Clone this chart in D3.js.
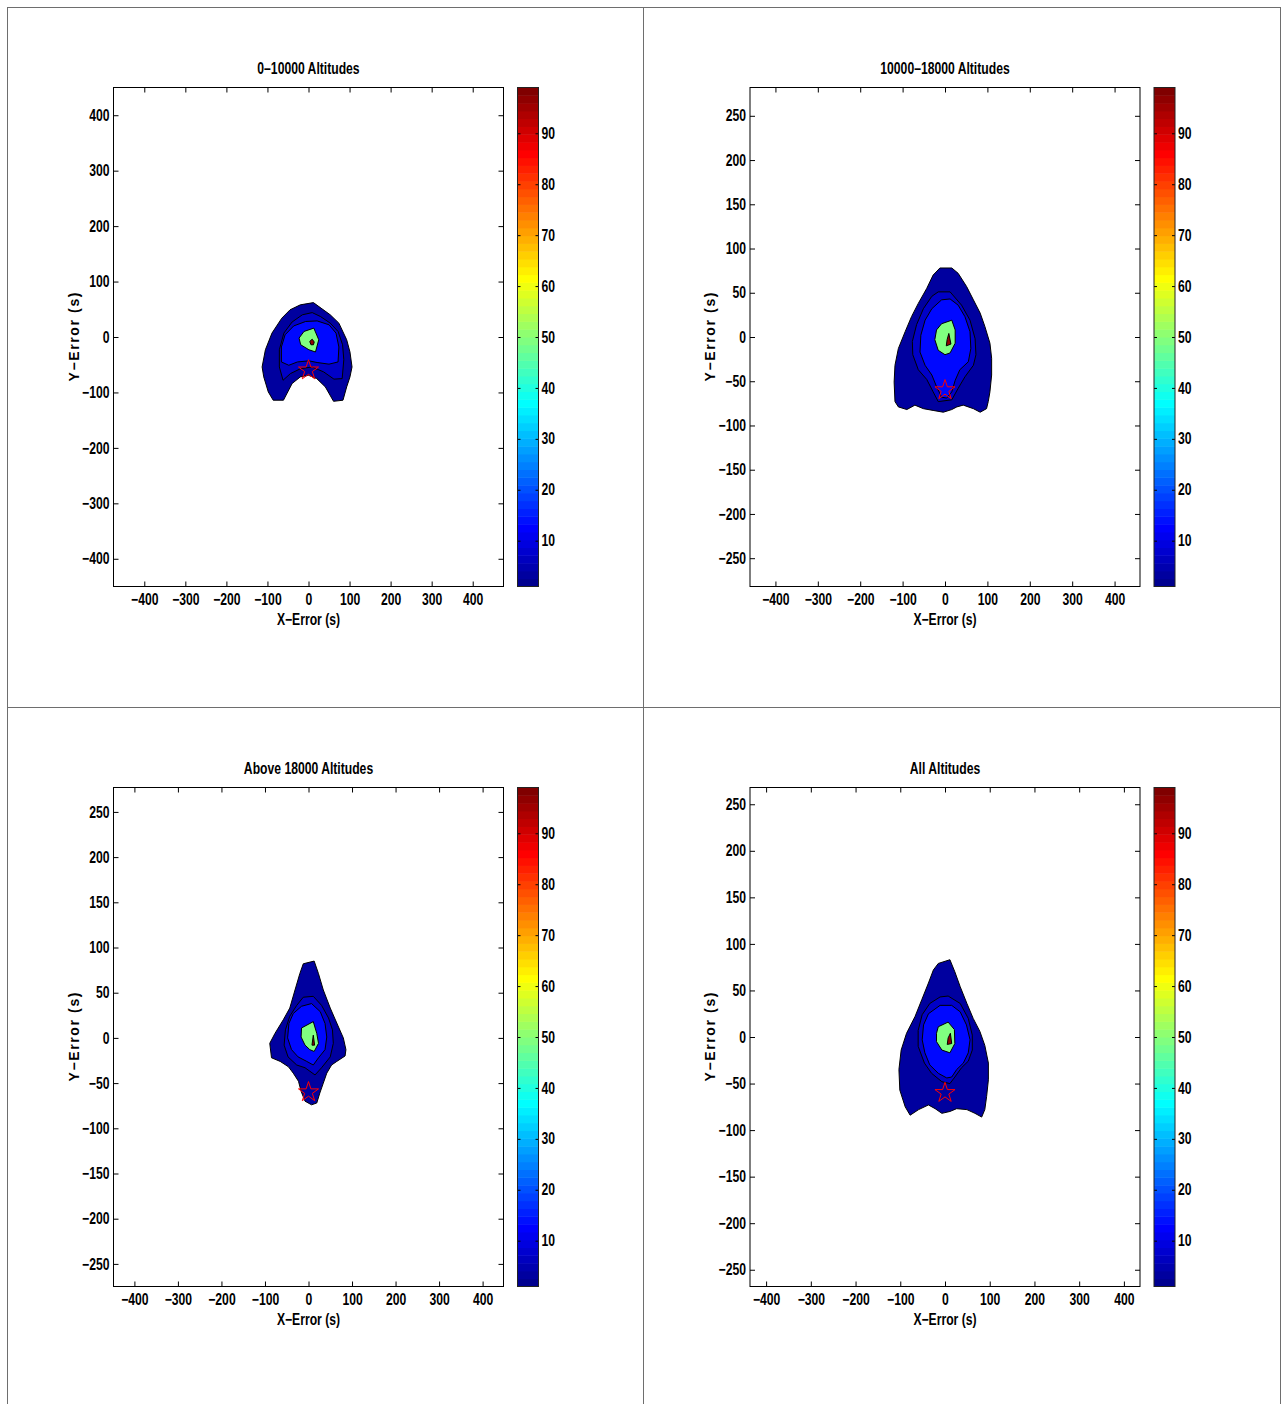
<!DOCTYPE html>
<html>
<head>
<meta charset="utf-8">
<script src="https://cdn.jsdelivr.net/npm/d3@7"></script>
<style>
  body { margin: 0; background: #fff; }
  text { font-family: "Liberation Sans", Arial, sans-serif; font-weight: bold; fill: #000; }
</style>
</head>
<body>
<script>
// Error distribution contours, four altitude bands

const panelTitles = ['0\u201310000 Altitudes', '10000\u201318000 Altitudes', 'Above 18000 Altitudes', 'All Altitudes'];
const xDomains = [[-475, 475], [-460, 460], [-448, 448], [-436, 436]];
const yDomains = [[-450, 450], [-282, 282], [-275, 277], [-268, 268]];
const xTicks = [-400, -300, -200, -100, 0, 100, 200, 300, 400];
const yTicksWide = [-400, -300, -200, -100, 0, 100, 200, 300, 400];
const yTicksNarrow = [-250, -200, -150, -100, -50, 0, 50, 100, 150, 200, 250];
const colorTicks = [10, 20, 30, 40, 50, 60, 70, 80, 90];
const colorRange = [1, 99];
const contourLevels = [4, 8, 14, 50, 97];
const target = [0, -60];

// contour outlines, one list per level
const p1Outer = [[-20,58],[12,62],[53,40],[74,25],[93,-5],[101,-27],[106,-54],[101,-72],[93,-90],[84,-114],[61,-116],[41,-90],[20,-75],[0,-69],[-20,-72],[-40,-84],[-61,-114],[-86,-114],[-98,-99],[-109,-72],[-113,-54],[-105,-23],[-89,7],[-65,34],[-45,49]];
const p1Mid = [[9,44],[29,37],[53,25],[72,10],[83,-14],[86,-41],[82,-75],[62,-76],[37,-63],[9,-54],[-19,-57],[-44,-66],[-62,-78],[-71,-54],[-71,-23],[-60,7],[-40,27],[-15,40]];
const p1Inner = [[-66,-45],[-66,-18],[-57,4],[-36,20],[-7,28],[21,29],[50,22],[67,7],[74,-18],[72,-45],[50,-49],[21,-46],[1,-43],[-27,-45],[-48,-51]];
const p1Green = [[-23,-2],[-11,10],[13,16],[25,-5],[17,-27],[1,-23],[-19,-14]];
const p1Peak = [[3,-8],[9,-4],[14,-9],[12,-14],[6,-14]];

const p2Outer = [[-12,78],[16,78],[31,72],[51,57],[67,42],[83,27],[94,12],[106,-7],[110,-24],[110,-43],[106,-62],[102,-73],[98,-81],[83,-85],[67,-81],[43,-77],[28,-79],[16,-82],[-4,-85],[-28,-83],[-51,-81],[-71,-77],[-90,-82],[-110,-79],[-118,-73],[-120,-51],[-118,-32],[-110,-13],[-94,6],[-79,23],[-63,38],[-43,55],[-28,70]];
const p2Mid = [[-16,51],[12,51],[39,36],[59,19],[71,-2],[73,-20],[67,-32],[47,-45],[31,-58],[16,-71],[-16,-73],[-28,-62],[-43,-48],[-63,-37],[-76,-20],[-77,-5],[-67,14],[-51,32],[-31,46]];
const p2Inner = [[-8,42],[12,43],[31,36],[47,23],[59,6],[61,-13],[55,-28],[35,-37],[24,-49],[16,-62],[4,-69],[-8,-68],[-20,-56],[-31,-43],[-47,-32],[-59,-17],[-57,2],[-47,19],[-31,32]];
const p2Green = [[-8,15],[16,19],[24,8],[24,-7],[12,-18],[0,-20],[-16,-15],[-24,-3],[-20,8]];
const p2Peak = [[9,4],[14,-8],[3,-10],[5,-3]];

const p3Outer = [[-12,82],[13,85],[23,71],[34,53],[50,33],[69,12],[80,0],[86,-13],[84,-20],[65,-26],[53,-30],[42,-39],[34,-50],[26,-61],[19,-72],[7,-74],[-8,-70],[-17,-59],[-23,-48],[-35,-39],[-46,-32],[-65,-26],[-85,-22],[-89,-6],[-77,5],[-58,20],[-43,33],[-31,53],[-20,71]];
const p3Mid = [[-12,45],[11,46],[30,36],[46,22],[55,9],[57,-6],[50,-21],[30,-33],[15,-41],[-8,-33],[-27,-30],[-47,-21],[-56,-8],[-53,9],[-43,24],[-27,36]];
const p3Inner = [[-16,35],[7,38],[27,29],[38,16],[42,1],[38,-13],[23,-22],[11,-30],[-4,-26],[-24,-21],[-39,-13],[-48,0],[-45,16],[-35,27]];
const p3Green = [[-16,11],[11,18],[19,5],[23,-6],[13,-15],[3,-13],[-8,-8],[-17,1]];
const p3Peak = [[11,3],[14,-8],[8,-8]];

const p4Outer = [[-15,79],[11,83],[22,70],[34,54],[49,36],[63,20],[78,6],[89,-9],[97,-28],[97,-46],[93,-64],[89,-78],[82,-86],[67,-82],[49,-78],[26,-77],[11,-80],[-7,-82],[-22,-77],[-37,-73],[-59,-78],[-78,-84],[-89,-75],[-101,-57],[-103,-35],[-98,-14],[-86,4],[-67,22],[-52,40],[-37,58],[-26,72]];
const p4Mid = [[-11,43],[7,44],[34,36],[52,20],[61,2],[61,-14],[52,-26],[37,-33],[22,-43],[11,-50],[-7,-48],[-30,-39],[-46,-28],[-60,-10],[-60,7],[-51,24],[-34,36]];
const p4Inner = [[-11,34],[15,34],[34,27],[48,13],[56,-3],[52,-17],[41,-28],[26,-35],[15,-43],[4,-44],[-15,-39],[-34,-30],[-45,-17],[-51,-3],[-48,13],[-37,25]];
const p4Green = [[-15,11],[7,16],[21,8],[22,-7],[11,-17],[-7,-14],[-19,-5],[-19,4]];
const p4Peak = [[12,4],[15,-7],[5,-8],[7,-1]];

const panelContours = [
    [p1Outer, p1Mid, p1Inner, p1Green, p1Peak],
    [p2Outer, p2Mid, p2Inner, p2Green, p2Peak],
    [p3Outer, p3Mid, p3Inner, p3Green, p3Peak],
    [p4Outer, p4Mid, p4Inner, p4Green, p4Peak]
];

// MATLAB-like jet colormap
function jet(t) {
    const c = v => Math.max(0, Math.min(1, v));
    const r = c(1.5 - Math.abs(4 * t - 3));
    const g = c(1.5 - Math.abs(4 * t - 2));
    const b = c(1.5 - Math.abs(4 * t - 1));
    return d3.rgb(r * 255, g * 255, b * 255).formatHex();
}
const levelColor = v => jet((v - colorRange[0]) / (colorRange[1] - colorRange[0]));
const fmt = d => d < 0 ? '\u2212' + Math.abs(d) : String(d);

// the original uses a narrow bold face; squeeze the installed one horizontally
const NARROW = 0.76;
function squeeze(sel) {
    sel.each(function () {
        const len = this.getComputedTextLength();
        if (len > 0) d3.select(this).attr('textLength', len * NARROW).attr('lengthAdjust', 'spacingAndGlyphs');
    });
}

const W = 1282, H = 1404;
const svg = d3.select('body').append('svg').attr('width', W).attr('height', H);

// outer frame of the figure grid
const frame = svg.append('g').attr('stroke', '#6e6e6e').attr('stroke-width', 1);
[7.5, 643.5, 1280.5].forEach(x => frame.append('line').attr('x1', x).attr('x2', x).attr('y1', 7).attr('y2', H));
[7.5, 707.5].forEach(y => frame.append('line').attr('x1', 7).attr('x2', 1281).attr('y1', y).attr('y2', y));

function drawPanel(i) {
    const ox = (i % 2) * 636.5;
    const oy = Math.floor(i / 2) * 700;
    const left = 113.5 + ox, top = 87.5 + oy, w = 390, h = 499;
    const yTicks = i === 0 ? yTicksWide : yTicksNarrow;

    const x = d3.scaleLinear().domain(xDomains[i]).range([left, left + w]);
    const y = d3.scaleLinear().domain(yDomains[i]).range([top + h, top]);

    const g = svg.append('g');

    svg.append('clipPath').attr('id', 'clip' + i)
        .append('rect').attr('x', left).attr('y', top).attr('width', w).attr('height', h);

    const plot = g.append('g').attr('clip-path', `url(#clip${i})`);
    const line = d3.line().x(d => x(d[0])).y(d => y(d[1])).curve(d3.curveLinearClosed);

    panelContours[i].forEach((poly, k) => {
        plot.append('path')
            .attr('d', line(poly))
            .attr('fill', levelColor(contourLevels[k]))
            .attr('stroke', '#000')
            .attr('stroke-width', 1)
            .attr('stroke-linejoin', 'round');
    });

    // target marker (pentagram)
    const star = d3.symbol().type(d3.symbolStar).size(125);
    plot.append('path')
        .attr('d', star())
        .attr('transform', `translate(${x(target[0])},${y(target[1])})`)
        .attr('fill', 'none')
        .attr('stroke', '#ff0000')
        .attr('stroke-width', 1);

    // axes, ticks pointing inward
    const axes = [
        [d3.axisBottom(x).tickValues(xTicks).tickFormat(fmt), `translate(0,${top + h})`, 7],
        [d3.axisTop(x).tickValues(xTicks).tickFormat(''), `translate(0,${top})`, 4],
        [d3.axisLeft(y).tickValues(yTicks).tickFormat(fmt), `translate(${left},0)`, 4],
        [d3.axisRight(y).tickValues(yTicks).tickFormat(''), `translate(${left + w},0)`, 4]
    ];
    axes.forEach(([ax, tr, pad]) => {
        const a = g.append('g').attr('transform', tr)
            .call(ax.tickSizeInner(-5).tickSizeOuter(0).tickPadding(pad));
        a.select('.domain').remove();
        a.selectAll('line').attr('stroke', '#000');
        a.selectAll('text').attr('font-size', 16).attr('font-family', null).attr('font-weight', null).attr('fill', '#000')
            .call(squeeze);
    });

    g.append('rect')
        .attr('x', left).attr('y', top).attr('width', w).attr('height', h)
        .attr('fill', 'none').attr('stroke', '#000').attr('stroke-width', 1);

    g.append('text')
        .attr('x', left + w / 2).attr('y', top - 14)
        .attr('text-anchor', 'middle').attr('font-size', 16)
        .text(panelTitles[i]).call(squeeze);

    g.append('text')
        .attr('x', left + w / 2).attr('y', top + h + 38)
        .attr('text-anchor', 'middle').attr('font-size', 16)
        .text('X\u2212Error (s)').call(squeeze);

    g.append('text')
        .attr('transform', `translate(${left - 35},${top + h / 2}) rotate(-90)`)
        .attr('text-anchor', 'middle').attr('font-size', 14)
        .attr('textLength', 89).attr('lengthAdjust', 'spacing')
        .text('Y\u2212Error (s)');

    // colorbar
    const cbLeft = 517.5 + ox, cbW = 21;
    const c = d3.scaleLinear().domain(colorRange).range([top + h, top]);
    const nBands = 64;
    const bands = d3.range(nBands).map(k => ({
        v0: colorRange[0] + k * (colorRange[1] - colorRange[0]) / nBands,
        v1: colorRange[0] + (k + 1) * (colorRange[1] - colorRange[0]) / nBands,
        color: jet((k + 1) / nBands)
    }));
    g.append('g').selectAll('rect').data(bands).enter().append('rect')
        .attr('x', cbLeft).attr('width', cbW)
        .attr('y', d => c(d.v1)).attr('height', d => c(d.v0) - c(d.v1) + 0.5)
        .attr('fill', d => d.color);

    const cbAxes = [
        [d3.axisRight(c).tickValues(colorTicks), `translate(${cbLeft + cbW},0)`],
        [d3.axisLeft(c).tickValues(colorTicks).tickFormat(''), `translate(${cbLeft},0)`]
    ];
    cbAxes.forEach(([ax, tr]) => {
        const a = g.append('g').attr('transform', tr)
            .call(ax.tickSizeInner(-3).tickSizeOuter(0).tickPadding(3));
        a.select('.domain').remove();
        a.selectAll('line').attr('stroke', '#000');
        a.selectAll('text').attr('font-size', 16).attr('font-family', null).attr('font-weight', null).attr('fill', '#000')
            .call(squeeze);
    });

    g.append('rect')
        .attr('x', cbLeft).attr('y', top).attr('width', cbW).attr('height', h)
        .attr('fill', 'none').attr('stroke', '#222').attr('stroke-width', 1);
}

panelTitles.forEach((t, i) => drawPanel(i));
</script>
</body>
</html>
